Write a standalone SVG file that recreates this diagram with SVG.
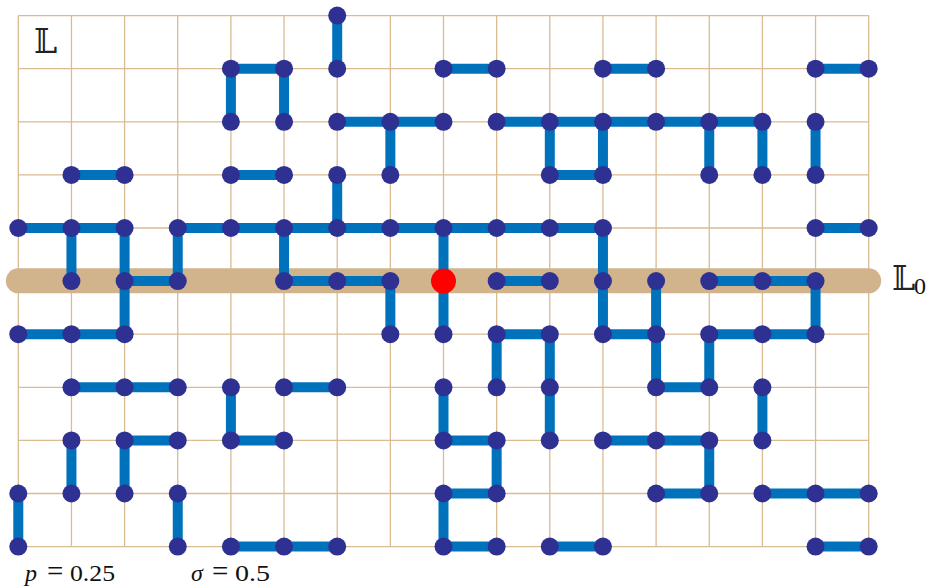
<svg xmlns="http://www.w3.org/2000/svg" width="927" height="588" viewBox="0 0 927 588">
<style>
.grid{stroke:#D9BC92;stroke-width:1.3;fill:none}
.band{stroke:#D2B48C;stroke-width:25;stroke-linecap:round;fill:none}
.e{stroke:#0072BC;stroke-width:10;stroke-linecap:butt}
.n{fill:#2E3192}
.r{fill:#FF0000}
.bb{font-family:"DejaVu Serif","DejaVu Sans",serif;font-size:33px;fill:#222}
.m{font-family:"Liberation Serif",serif;font-size:24px;fill:#111}
.i{font-style:italic}
.eq{font-size:29px}
</style>
<rect width="927" height="588" fill="#fff"/>
<g id="grid">
<path class="grid" d="M18.3 15.6V546.6M71.45 15.6V546.6M124.6 15.6V546.6M177.75 15.6V546.6M230.9 15.6V546.6M284.05 15.6V546.6M337.2 15.6V546.6M390.35 15.6V546.6M443.5 15.6V546.6M496.65 15.6V546.6M549.8 15.6V546.6M602.95 15.6V546.6M656.1 15.6V546.6M709.25 15.6V546.6M762.4 15.6V546.6M815.55 15.6V546.6M868.7 15.6V546.6M18.3 15.6H868.7M18.3 68.7H868.7M18.3 121.8H868.7M18.3 174.9H868.7M18.3 228H868.7M18.3 281.1H868.7M18.3 334.2H868.7M18.3 387.3H868.7M18.3 440.4H868.7M18.3 493.5H868.7M18.3 546.6H868.7"/>
</g>
<g id="L0-band"><line class="band" x1="18.3" y1="280.8" x2="868.7" y2="280.8"/></g>
<g id="connectors">
<line class="e" x1="230.9" y1="68.7" x2="284.05" y2="68.7"/>
<line class="e" x1="443.5" y1="68.7" x2="496.65" y2="68.7"/>
<line class="e" x1="602.95" y1="68.7" x2="656.1" y2="68.7"/>
<line class="e" x1="815.55" y1="68.7" x2="868.7" y2="68.7"/>
<line class="e" x1="337.2" y1="121.8" x2="443.5" y2="121.8"/>
<line class="e" x1="496.65" y1="121.8" x2="762.4" y2="121.8"/>
<line class="e" x1="71.45" y1="174.9" x2="124.6" y2="174.9"/>
<line class="e" x1="230.9" y1="174.9" x2="284.05" y2="174.9"/>
<line class="e" x1="549.8" y1="174.9" x2="602.95" y2="174.9"/>
<line class="e" x1="18.3" y1="228" x2="124.6" y2="228"/>
<line class="e" x1="177.75" y1="228" x2="602.95" y2="228"/>
<line class="e" x1="815.55" y1="228" x2="868.7" y2="228"/>
<line class="e" x1="124.6" y1="281.1" x2="177.75" y2="281.1"/>
<line class="e" x1="284.05" y1="281.1" x2="390.35" y2="281.1"/>
<line class="e" x1="496.65" y1="281.1" x2="549.8" y2="281.1"/>
<line class="e" x1="709.25" y1="281.1" x2="815.55" y2="281.1"/>
<line class="e" x1="18.3" y1="334.2" x2="124.6" y2="334.2"/>
<line class="e" x1="496.65" y1="334.2" x2="549.8" y2="334.2"/>
<line class="e" x1="602.95" y1="334.2" x2="656.1" y2="334.2"/>
<line class="e" x1="709.25" y1="334.2" x2="815.55" y2="334.2"/>
<line class="e" x1="71.45" y1="387.3" x2="177.75" y2="387.3"/>
<line class="e" x1="284.05" y1="387.3" x2="337.2" y2="387.3"/>
<line class="e" x1="656.1" y1="387.3" x2="709.25" y2="387.3"/>
<line class="e" x1="124.6" y1="440.4" x2="177.75" y2="440.4"/>
<line class="e" x1="230.9" y1="440.4" x2="284.05" y2="440.4"/>
<line class="e" x1="443.5" y1="440.4" x2="496.65" y2="440.4"/>
<line class="e" x1="602.95" y1="440.4" x2="709.25" y2="440.4"/>
<line class="e" x1="443.5" y1="493.5" x2="496.65" y2="493.5"/>
<line class="e" x1="656.1" y1="493.5" x2="709.25" y2="493.5"/>
<line class="e" x1="762.4" y1="493.5" x2="868.7" y2="493.5"/>
<line class="e" x1="230.9" y1="546.6" x2="337.2" y2="546.6"/>
<line class="e" x1="443.5" y1="546.6" x2="496.65" y2="546.6"/>
<line class="e" x1="549.8" y1="546.6" x2="602.95" y2="546.6"/>
<line class="e" x1="815.55" y1="546.6" x2="868.7" y2="546.6"/>
<line class="e" x1="337.2" y1="15.6" x2="337.2" y2="68.7"/>
<line class="e" x1="337.2" y1="174.9" x2="337.2" y2="228"/>
<line class="e" x1="230.9" y1="68.7" x2="230.9" y2="121.8"/>
<line class="e" x1="230.9" y1="387.3" x2="230.9" y2="440.4"/>
<line class="e" x1="284.05" y1="68.7" x2="284.05" y2="121.8"/>
<line class="e" x1="284.05" y1="228" x2="284.05" y2="281.1"/>
<line class="e" x1="390.35" y1="121.8" x2="390.35" y2="174.9"/>
<line class="e" x1="390.35" y1="281.1" x2="390.35" y2="334.2"/>
<line class="e" x1="549.8" y1="121.8" x2="549.8" y2="174.9"/>
<line class="e" x1="549.8" y1="334.2" x2="549.8" y2="440.4"/>
<line class="e" x1="602.95" y1="121.8" x2="602.95" y2="174.9"/>
<line class="e" x1="602.95" y1="228" x2="602.95" y2="334.2"/>
<line class="e" x1="709.25" y1="121.8" x2="709.25" y2="174.9"/>
<line class="e" x1="709.25" y1="334.2" x2="709.25" y2="387.3"/>
<line class="e" x1="709.25" y1="440.4" x2="709.25" y2="493.5"/>
<line class="e" x1="762.4" y1="121.8" x2="762.4" y2="174.9"/>
<line class="e" x1="762.4" y1="387.3" x2="762.4" y2="440.4"/>
<line class="e" x1="815.55" y1="121.8" x2="815.55" y2="174.9"/>
<line class="e" x1="815.55" y1="281.1" x2="815.55" y2="334.2"/>
<line class="e" x1="71.45" y1="228" x2="71.45" y2="281.1"/>
<line class="e" x1="71.45" y1="440.4" x2="71.45" y2="493.5"/>
<line class="e" x1="124.6" y1="228" x2="124.6" y2="334.2"/>
<line class="e" x1="124.6" y1="440.4" x2="124.6" y2="493.5"/>
<line class="e" x1="177.75" y1="228" x2="177.75" y2="281.1"/>
<line class="e" x1="177.75" y1="493.5" x2="177.75" y2="546.6"/>
<line class="e" x1="443.5" y1="228" x2="443.5" y2="334.2"/>
<line class="e" x1="443.5" y1="387.3" x2="443.5" y2="440.4"/>
<line class="e" x1="443.5" y1="493.5" x2="443.5" y2="546.6"/>
<line class="e" x1="496.65" y1="334.2" x2="496.65" y2="387.3"/>
<line class="e" x1="496.65" y1="440.4" x2="496.65" y2="493.5"/>
<line class="e" x1="656.1" y1="281.1" x2="656.1" y2="387.3"/>
<line class="e" x1="18.3" y1="493.5" x2="18.3" y2="546.6"/>
</g>
<g id="nodes">
<g id="n6-0"><circle class="n" cx="337.2" cy="15.6" r="9"/></g>
<g id="n4-1"><circle class="n" cx="230.9" cy="68.7" r="9"/></g>
<g id="n5-1"><circle class="n" cx="284.05" cy="68.7" r="9"/></g>
<g id="n6-1"><circle class="n" cx="337.2" cy="68.7" r="9"/></g>
<g id="n8-1"><circle class="n" cx="443.5" cy="68.7" r="9"/></g>
<g id="n9-1"><circle class="n" cx="496.65" cy="68.7" r="9"/></g>
<g id="n11-1"><circle class="n" cx="602.95" cy="68.7" r="9"/></g>
<g id="n12-1"><circle class="n" cx="656.1" cy="68.7" r="9"/></g>
<g id="n15-1"><circle class="n" cx="815.55" cy="68.7" r="9"/></g>
<g id="n16-1"><circle class="n" cx="868.7" cy="68.7" r="9"/></g>
<g id="n4-2"><circle class="n" cx="230.9" cy="121.8" r="9"/></g>
<g id="n5-2"><circle class="n" cx="284.05" cy="121.8" r="9"/></g>
<g id="n6-2"><circle class="n" cx="337.2" cy="121.8" r="9"/></g>
<g id="n7-2"><circle class="n" cx="390.35" cy="121.8" r="9"/></g>
<g id="n8-2"><circle class="n" cx="443.5" cy="121.8" r="9"/></g>
<g id="n9-2"><circle class="n" cx="496.65" cy="121.8" r="9"/></g>
<g id="n10-2"><circle class="n" cx="549.8" cy="121.8" r="9"/></g>
<g id="n11-2"><circle class="n" cx="602.95" cy="121.8" r="9"/></g>
<g id="n12-2"><circle class="n" cx="656.1" cy="121.8" r="9"/></g>
<g id="n13-2"><circle class="n" cx="709.25" cy="121.8" r="9"/></g>
<g id="n14-2"><circle class="n" cx="762.4" cy="121.8" r="9"/></g>
<g id="n15-2"><circle class="n" cx="815.55" cy="121.8" r="9"/></g>
<g id="n1-3"><circle class="n" cx="71.45" cy="174.9" r="9"/></g>
<g id="n2-3"><circle class="n" cx="124.6" cy="174.9" r="9"/></g>
<g id="n4-3"><circle class="n" cx="230.9" cy="174.9" r="9"/></g>
<g id="n5-3"><circle class="n" cx="284.05" cy="174.9" r="9"/></g>
<g id="n6-3"><circle class="n" cx="337.2" cy="174.9" r="9"/></g>
<g id="n7-3"><circle class="n" cx="390.35" cy="174.9" r="9"/></g>
<g id="n10-3"><circle class="n" cx="549.8" cy="174.9" r="9"/></g>
<g id="n11-3"><circle class="n" cx="602.95" cy="174.9" r="9"/></g>
<g id="n13-3"><circle class="n" cx="709.25" cy="174.9" r="9"/></g>
<g id="n14-3"><circle class="n" cx="762.4" cy="174.9" r="9"/></g>
<g id="n15-3"><circle class="n" cx="815.55" cy="174.9" r="9"/></g>
<g id="n0-4"><circle class="n" cx="18.3" cy="228" r="9"/></g>
<g id="n1-4"><circle class="n" cx="71.45" cy="228" r="9"/></g>
<g id="n2-4"><circle class="n" cx="124.6" cy="228" r="9"/></g>
<g id="n3-4"><circle class="n" cx="177.75" cy="228" r="9"/></g>
<g id="n4-4"><circle class="n" cx="230.9" cy="228" r="9"/></g>
<g id="n5-4"><circle class="n" cx="284.05" cy="228" r="9"/></g>
<g id="n6-4"><circle class="n" cx="337.2" cy="228" r="9"/></g>
<g id="n7-4"><circle class="n" cx="390.35" cy="228" r="9"/></g>
<g id="n8-4"><circle class="n" cx="443.5" cy="228" r="9"/></g>
<g id="n9-4"><circle class="n" cx="496.65" cy="228" r="9"/></g>
<g id="n10-4"><circle class="n" cx="549.8" cy="228" r="9"/></g>
<g id="n11-4"><circle class="n" cx="602.95" cy="228" r="9"/></g>
<g id="n15-4"><circle class="n" cx="815.55" cy="228" r="9"/></g>
<g id="n16-4"><circle class="n" cx="868.7" cy="228" r="9"/></g>
<g id="n1-5"><circle class="n" cx="71.45" cy="281.1" r="9"/></g>
<g id="n2-5"><circle class="n" cx="124.6" cy="281.1" r="9"/></g>
<g id="n3-5"><circle class="n" cx="177.75" cy="281.1" r="9"/></g>
<g id="n5-5"><circle class="n" cx="284.05" cy="281.1" r="9"/></g>
<g id="n6-5"><circle class="n" cx="337.2" cy="281.1" r="9"/></g>
<g id="n7-5"><circle class="n" cx="390.35" cy="281.1" r="9"/></g>
<g id="n8-5"><circle class="r" cx="443.5" cy="281.1" r="12.5"/></g>
<g id="n9-5"><circle class="n" cx="496.65" cy="281.1" r="9"/></g>
<g id="n10-5"><circle class="n" cx="549.8" cy="281.1" r="9"/></g>
<g id="n11-5"><circle class="n" cx="602.95" cy="281.1" r="9"/></g>
<g id="n12-5"><circle class="n" cx="656.1" cy="281.1" r="9"/></g>
<g id="n13-5"><circle class="n" cx="709.25" cy="281.1" r="9"/></g>
<g id="n14-5"><circle class="n" cx="762.4" cy="281.1" r="9"/></g>
<g id="n15-5"><circle class="n" cx="815.55" cy="281.1" r="9"/></g>
<g id="n0-6"><circle class="n" cx="18.3" cy="334.2" r="9"/></g>
<g id="n1-6"><circle class="n" cx="71.45" cy="334.2" r="9"/></g>
<g id="n2-6"><circle class="n" cx="124.6" cy="334.2" r="9"/></g>
<g id="n7-6"><circle class="n" cx="390.35" cy="334.2" r="9"/></g>
<g id="n8-6"><circle class="n" cx="443.5" cy="334.2" r="9"/></g>
<g id="n9-6"><circle class="n" cx="496.65" cy="334.2" r="9"/></g>
<g id="n10-6"><circle class="n" cx="549.8" cy="334.2" r="9"/></g>
<g id="n11-6"><circle class="n" cx="602.95" cy="334.2" r="9"/></g>
<g id="n12-6"><circle class="n" cx="656.1" cy="334.2" r="9"/></g>
<g id="n13-6"><circle class="n" cx="709.25" cy="334.2" r="9"/></g>
<g id="n14-6"><circle class="n" cx="762.4" cy="334.2" r="9"/></g>
<g id="n15-6"><circle class="n" cx="815.55" cy="334.2" r="9"/></g>
<g id="n1-7"><circle class="n" cx="71.45" cy="387.3" r="9"/></g>
<g id="n2-7"><circle class="n" cx="124.6" cy="387.3" r="9"/></g>
<g id="n3-7"><circle class="n" cx="177.75" cy="387.3" r="9"/></g>
<g id="n4-7"><circle class="n" cx="230.9" cy="387.3" r="9"/></g>
<g id="n5-7"><circle class="n" cx="284.05" cy="387.3" r="9"/></g>
<g id="n6-7"><circle class="n" cx="337.2" cy="387.3" r="9"/></g>
<g id="n8-7"><circle class="n" cx="443.5" cy="387.3" r="9"/></g>
<g id="n9-7"><circle class="n" cx="496.65" cy="387.3" r="9"/></g>
<g id="n10-7"><circle class="n" cx="549.8" cy="387.3" r="9"/></g>
<g id="n12-7"><circle class="n" cx="656.1" cy="387.3" r="9"/></g>
<g id="n13-7"><circle class="n" cx="709.25" cy="387.3" r="9"/></g>
<g id="n14-7"><circle class="n" cx="762.4" cy="387.3" r="9"/></g>
<g id="n1-8"><circle class="n" cx="71.45" cy="440.4" r="9"/></g>
<g id="n2-8"><circle class="n" cx="124.6" cy="440.4" r="9"/></g>
<g id="n3-8"><circle class="n" cx="177.75" cy="440.4" r="9"/></g>
<g id="n4-8"><circle class="n" cx="230.9" cy="440.4" r="9"/></g>
<g id="n5-8"><circle class="n" cx="284.05" cy="440.4" r="9"/></g>
<g id="n8-8"><circle class="n" cx="443.5" cy="440.4" r="9"/></g>
<g id="n9-8"><circle class="n" cx="496.65" cy="440.4" r="9"/></g>
<g id="n10-8"><circle class="n" cx="549.8" cy="440.4" r="9"/></g>
<g id="n11-8"><circle class="n" cx="602.95" cy="440.4" r="9"/></g>
<g id="n12-8"><circle class="n" cx="656.1" cy="440.4" r="9"/></g>
<g id="n13-8"><circle class="n" cx="709.25" cy="440.4" r="9"/></g>
<g id="n14-8"><circle class="n" cx="762.4" cy="440.4" r="9"/></g>
<g id="n0-9"><circle class="n" cx="18.3" cy="493.5" r="9"/></g>
<g id="n1-9"><circle class="n" cx="71.45" cy="493.5" r="9"/></g>
<g id="n2-9"><circle class="n" cx="124.6" cy="493.5" r="9"/></g>
<g id="n3-9"><circle class="n" cx="177.75" cy="493.5" r="9"/></g>
<g id="n8-9"><circle class="n" cx="443.5" cy="493.5" r="9"/></g>
<g id="n9-9"><circle class="n" cx="496.65" cy="493.5" r="9"/></g>
<g id="n12-9"><circle class="n" cx="656.1" cy="493.5" r="9"/></g>
<g id="n13-9"><circle class="n" cx="709.25" cy="493.5" r="9"/></g>
<g id="n14-9"><circle class="n" cx="762.4" cy="493.5" r="9"/></g>
<g id="n15-9"><circle class="n" cx="815.55" cy="493.5" r="9"/></g>
<g id="n16-9"><circle class="n" cx="868.7" cy="493.5" r="9"/></g>
<g id="n0-10"><circle class="n" cx="18.3" cy="546.6" r="9"/></g>
<g id="n3-10"><circle class="n" cx="177.75" cy="546.6" r="9"/></g>
<g id="n4-10"><circle class="n" cx="230.9" cy="546.6" r="9"/></g>
<g id="n5-10"><circle class="n" cx="284.05" cy="546.6" r="9"/></g>
<g id="n6-10"><circle class="n" cx="337.2" cy="546.6" r="9"/></g>
<g id="n8-10"><circle class="n" cx="443.5" cy="546.6" r="9"/></g>
<g id="n9-10"><circle class="n" cx="496.65" cy="546.6" r="9"/></g>
<g id="n10-10"><circle class="n" cx="549.8" cy="546.6" r="9"/></g>
<g id="n11-10"><circle class="n" cx="602.95" cy="546.6" r="9"/></g>
<g id="n15-10"><circle class="n" cx="815.55" cy="546.6" r="9"/></g>
<g id="n16-10"><circle class="n" cx="868.7" cy="546.6" r="9"/></g>
</g>
<g id="labels">
<text class="bb" x="34" y="53">𝕃</text>
<text class="bb" x="892" y="290">𝕃</text>
<text class="m" x="914" y="294">0</text>
<text class="m" y="581"><tspan class="i" x="25">p</tspan><tspan class="eq" x="47">=</tspan><tspan x="70" textLength="45" lengthAdjust="spacingAndGlyphs">0.25</tspan></text>
<text class="m" y="581"><tspan class="i" x="191">σ</tspan><tspan class="eq" x="212">=</tspan><tspan x="235" textLength="35" lengthAdjust="spacingAndGlyphs">0.5</tspan></text>
</g>
</svg>
